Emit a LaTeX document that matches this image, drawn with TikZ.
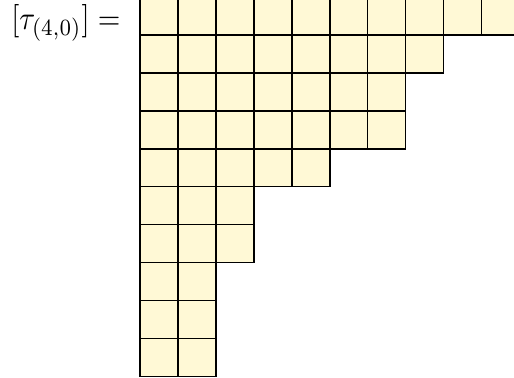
\documentclass[tikz,border=0pt]{standalone}
\usepackage{tikz}
\usetikzlibrary{positioning}
\definecolor{cellyellow}{RGB}{255,249,214}

\begin{document}
\begin{tikzpicture}[
    x=0.4cm, y=0.4cm,
    cell/.style = {draw=black, fill=cellyellow, line width=0.45pt},
    lhs/.style  = {anchor=base east, inner sep=0pt}
    ]
\clip (-3.69,-0.03) rectangle (9.855,9.92);
\node (lhs) [lhs] at (-0.50,9.15) {\scalebox{0.87}[1]{$[\tau_{(4,0)}] =$}};
% row lengths, top row first
\foreach \len [count=\row] in {10,8,7,7,5,3,3,2,2,2}
  \foreach \col in {1,...,\len}
    \draw[cell] (\col-1,10-\row) rectangle (\col,11-\row);
\end{tikzpicture}
\end{document}
